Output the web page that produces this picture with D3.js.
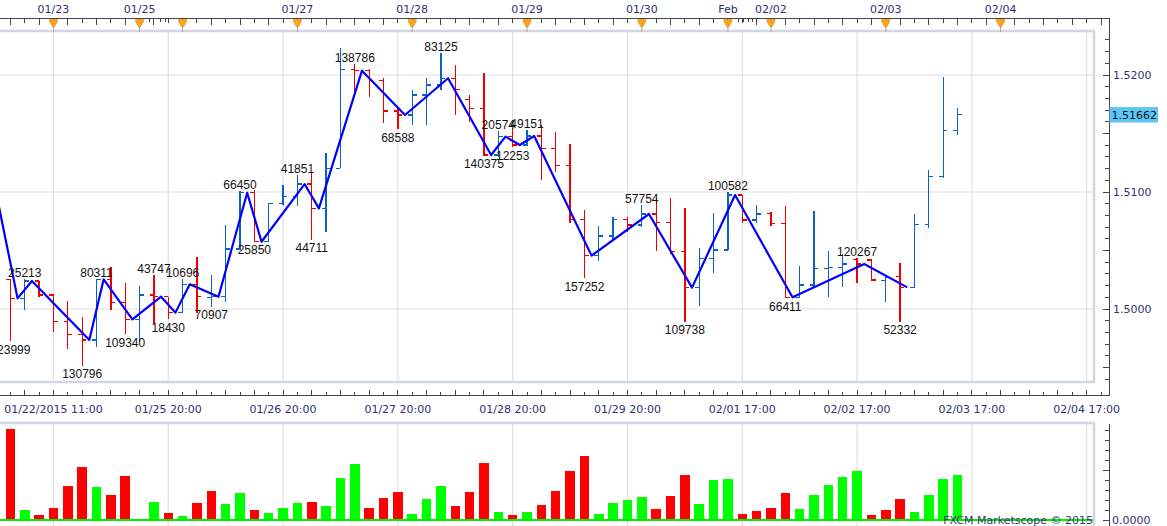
<!DOCTYPE html>
<html><head><meta charset="utf-8">
<script src="https://cdn.jsdelivr.net/npm/d3@7"></script>
<style>body{margin:0;background:#fff;overflow:hidden}svg{display:block}</style>
</head><body>
<svg id="c" width="1167" height="526"></svg>
<script>
// ---------- DATA ----------
const opens  = [1.50254,1.50091,1.50239,1.50120,1.49892,1.49783,1.49735,1.50254,1.50057,1.49912,
                1.50120,1.50105,1.49969,1.50211,1.50100,1.50105,1.50513,1.50994,1.50575,1.50903,
                1.50960,1.51068,1.50860,1.51202,1.52048,1.52037,1.51952,1.51692,1.51658,1.51829,
                1.51915,1.51972,1.51792,1.51715,1.51316,1.51473,1.51402,1.51479,1.51373,1.51228,
                1.50766,1.50456,1.50624,1.50766,1.50718,1.50812,1.50738,1.50490,1.50183,1.50433,
                1.50504,1.50974,1.50761,1.50818,1.50732,1.50100,1.50205,1.50348,1.50357,1.50424,
                1.50419,1.50242,1.50276,1.50185,1.50724,1.51134,1.51527];
const highs  = [1.50254,1.50254,1.50242,1.50128,1.50071,1.49934,1.50254,1.50356,1.50225,1.50197,
                1.50291,1.50105,1.50254,1.50442,1.50291,1.50718,1.51010,1.51017,1.50903,1.51060,
                1.51145,1.51174,1.51336,1.52228,1.52094,1.52048,1.51972,1.51724,1.51872,1.51972,
                1.52185,1.52085,1.51829,1.52020,1.51521,1.51544,1.51530,1.51573,1.51516,1.51410,
                1.50846,1.50709,1.50783,1.50789,1.50889,1.50946,1.50946,1.50860,1.50519,1.50823,
                1.51003,1.50974,1.50889,1.50832,1.50880,1.50368,1.50840,1.50499,1.50470,1.50433,
                1.50424,1.50282,1.50390,1.50812,1.51188,1.51986,1.51715];
const lows   = [1.49726,1.49991,1.50100,1.49806,1.49655,1.49516,1.49678,1.49991,1.49786,1.49721,
                1.49872,1.49912,1.49963,1.49963,1.50020,1.50057,1.50504,1.50573,1.50570,1.50889,
                1.50883,1.50590,1.50661,1.51202,1.51829,1.51809,1.51587,1.51538,1.51573,1.51573,
                1.51872,1.51658,1.51601,1.51308,1.51302,1.51381,1.51395,1.51103,1.51174,1.50732,
                1.50262,1.50413,1.50590,1.50661,1.50704,1.50499,1.50470,1.49892,1.50028,1.50305,
                1.50504,1.50732,1.50732,1.50709,1.50091,1.50091,1.50177,1.50100,1.50191,1.50225,
                1.50242,1.50063,1.49892,1.50177,1.50695,1.51117,1.51487];
const closes = [1.50091,1.50239,1.50120,1.49892,1.49783,1.49735,1.50254,1.50057,1.49912,1.50120,
                1.50105,1.49969,1.50211,1.50105,1.50105,1.50513,1.50994,1.50575,1.50903,1.50960,
                1.51068,1.50860,1.51202,1.52048,1.52037,1.51952,1.51692,1.51658,1.51829,1.51915,
                1.51972,1.51878,1.51715,1.51316,1.51473,1.51402,1.51479,1.51373,1.51228,1.50766,
                1.50456,1.50624,1.50766,1.50718,1.50812,1.50738,1.50490,1.50183,1.50433,1.50504,
                1.50974,1.50761,1.50812,1.50732,1.50100,1.50205,1.50348,1.50357,1.50385,1.50385,
                1.50248,1.50270,1.50185,1.50724,1.51134,1.51527,1.51662];
const volumes = [91,10,5,12,34,53,33,25,44,1,18,7,4,17,29,16,27,10,7,12,17,18,14,42,56,12,22,28,6,21,
                 34,14,28,57,8,5,8,15,29,49,64,6,17,20,23,11,24,45,16,40,41,6,9,12,27,11,25,35,43,49,
                 5,10,21,8,25,41,45];
const volumeUp = [0,1,0,0,0,0,1,0,0,1,1,0,1,0,0,1,1,0,1,1,1,0,1,1,1,0,0,0,1,1,
                  1,0,0,0,1,0,1,0,0,0,0,1,1,1,1,0,0,0,1,1,1,0,0,0,0,1,1,1,1,1,
                  0,0,0,1,1,1,1];
const pivotIndex  = [0,1,5,6,8,10,11,12,14,16,17,20,21,24,27,30,33,34,35,36,40,44,47,50,54,59,62];
const pivotType   = ["L","H","L","H","L","H","L","H","L","H","L","H","L","H","L","H","L","H","L","H","L","H","L","H","L","H","L"];
const pivotLabels = ["123999","25213","130796","80311","109340","43747","18430","10696","70907","66450",
                     "25850","41851","44711","138786","68588","83125","140375","20574","12253","49151",
                     "157252","57754","109738","100582","66411","120267","52332"];
const zigzagLeadIndex = -2, zigzagLeadPrice = 1.51298;
const topMarkerIndex  = [3,9,12,20,28,36,44,50,53,61,69];
const topMarkerLabels = ["01/23","01/25","","01/27","01/28","01/29","01/30","Feb","02/02","02/03","02/04"];
const extraTopTicks   = [9.66,10.43,10.82,50.73,51.09,51.45,51.74];
const gridIndex    = [3,11,19,27,35,43,51,59,67,75];
const bottomLabels = ["01/22/2015 11:00","01/25 20:00","01/26 20:00","01/27 20:00","01/28 20:00",
                      "01/29 20:00","02/01 17:00","02/02 17:00","02/03 17:00","02/04 17:00"];
const priceGrid   = [1.50,1.51,1.52];
const priceLabels = ["1.5000","1.5100","1.5200"];
const lastPrice = 1.51662, lastPriceText = "1.51662";
const volumeTicks = [0,10,20,30,40,50,60,70,80,90];
const volumeZeroLabel = "0.0000";
const credit = "FXCM Marketscope © 2015";

// ---------- LAYOUT ----------
const W = 1167, H = 526;
const paneRight = 1094, axisX = 1109.5;
const topAxisY = 18.5, priceTop = 31, priceBottom = 382, bottomAxisY = 395.5;
const volTop = 423, volBottom = 526;
const axisFont = "'DejaVu Sans', Verdana, sans-serif";
const axisColor = "#30306e";

const x  = d3.scaleLinear().domain([0, 75]).range([10.4, 10.4 + 14.35 * 75]);
const y  = d3.scaleLinear().domain([1.50, 1.52]).range([309, 75]);
const yv = d3.scaleLinear().domain([0, 99]).range([520, 421]);
const half = (x(1) - x(0)) / 2;
const tickLen = 4.3;

const svg = d3.select("#c");
const defs = svg.append("defs");
defs.append("clipPath").attr("id","pclip").append("rect")
  .attr("x",0).attr("y",priceTop+1).attr("width",paneRight-1).attr("height",priceBottom-priceTop-2);
defs.append("clipPath").attr("id","vclip").append("rect")
  .attr("x",0).attr("y",volTop+1).attr("width",paneRight-1).attr("height",volBottom-volTop);

svg.append("rect").attr("width",W).attr("height",H).attr("fill","#fff");

// ---------- PRICE PANE ----------
const pp = svg.append("g").attr("clip-path","url(#pclip)");
pp.selectAll("line.vg").data(gridIndex).join("line")
  .attr("x1",d=>x(d)).attr("x2",d=>x(d)).attr("y1",priceTop).attr("y2",priceBottom)
  .attr("stroke","#e0e0e0").attr("stroke-width",1.2);
pp.selectAll("line.hg").data(priceGrid).join("line")
  .attr("x1",0).attr("x2",paneRight).attr("y1",d=>y(d)).attr("y2",d=>y(d))
  .attr("stroke","#e0e0e0").attr("stroke-width",1.2);

const bars = d3.range(opens.length).map(i => ({i, o:opens[i], h:highs[i], l:lows[i], c:closes[i]}));
const bg = pp.append("g").attr("shape-rendering","crispEdges");
const barColor = d => d.c >= d.o ? "#0a62c9" : "#ee0000";
const bs = bg.selectAll("g").data(bars).join("g").attr("stroke", barColor).attr("stroke-width",1.3);
bs.append("line").attr("x1",d=>x(d.i)).attr("x2",d=>x(d.i)).attr("y1",d=>y(d.h)).attr("y2",d=>y(d.l));
bs.append("line").attr("x1",d=>x(d.i)-tickLen).attr("x2",d=>x(d.i)).attr("y1",d=>y(d.o)).attr("y2",d=>y(d.o));
bs.append("line").attr("x1",d=>x(d.i)).attr("x2",d=>x(d.i)+tickLen).attr("y1",d=>y(d.c)).attr("y2",d=>y(d.c));

const zz = [{i:zigzagLeadIndex, p:zigzagLeadPrice}].concat(pivotIndex.map(i => ({i, p:closes[i]})));
pp.append("path").datum(zz)
  .attr("d", d3.line().x(d=>x(d.i)+half).y(d=>y(d.p)))
  .attr("fill","none").attr("stroke","#0000ff").attr("stroke-width",2.2).attr("stroke-linejoin","round");

svg.append("g").selectAll("text").data(pivotIndex).join("text")
  .attr("x", d=>x(d))
  .attr("y", (d,k)=> pivotType[k]==="H" ? y(highs[d]) - 2 : y(lows[d]) + 12.5)
  .attr("text-anchor","middle")
  .attr("font-family","'Liberation Sans', Arial, sans-serif").attr("font-size",12).attr("fill","#111")
  .text((d,k)=>pivotLabels[k]);

// pane border
svg.append("rect").attr("x",-2).attr("y",priceTop).attr("width",paneRight+2).attr("height",priceBottom-priceTop)
  .attr("fill","none").attr("stroke","#cfd7e2").attr("stroke-width",2.5);

// ---------- TOP RULER ----------
const ta = svg.append("g").attr("shape-rendering","crispEdges");
ta.append("line").attr("x1",0).attr("x2",axisX).attr("y1",topAxisY).attr("y2",topAxisY).attr("stroke","#444").attr("stroke-width",1.2);
const topTickIdx = d3.range(0, 77).filter(i => x(i) < axisX - 2);
ta.selectAll("line.tt").data(topTickIdx).join("line")
  .attr("x1",d=>x(d)).attr("x2",d=>x(d)).attr("y1",topAxisY).attr("y2",d=> d%2===0 ? topAxisY+6 : topAxisY+4)
  .attr("stroke","#444");
ta.selectAll("line.et").data(extraTopTicks).join("line")
  .attr("x1",d=>x(d)).attr("x2",d=>x(d)).attr("y1",topAxisY).attr("y2",topAxisY+3.5).attr("stroke","#444");
const mk = svg.append("g").selectAll("g").data(topMarkerIndex).join("g")
  .attr("transform", d=>`translate(${x(d)},0)`);
mk.append("line").attr("x1",0).attr("x2",0).attr("y1",26).attr("y2",priceTop+1).attr("stroke","#a8a8a8");
mk.append("path").attr("d","M-4,19.5L4,19.5L4,21.5L0.8,27L-0.8,27L-4,21.5Z")
  .attr("fill","#f8a41c").attr("stroke","#e58e0a").attr("stroke-width",0.6);
svg.append("g").selectAll("text").data(topMarkerIndex).join("text")
  .attr("x",d=>x(d)).attr("y",13).attr("text-anchor","middle")
  .attr("font-family",axisFont).attr("font-size",11).attr("fill",axisColor)
  .text((d,k)=>topMarkerLabels[k]);

// ---------- BOTTOM TIME AXIS ----------
const ba = svg.append("g").attr("shape-rendering","crispEdges");
ba.append("line").attr("x1",0).attr("x2",axisX).attr("y1",bottomAxisY).attr("y2",bottomAxisY).attr("stroke","#444").attr("stroke-width",1.2);
ba.selectAll("line.bt").data(d3.range(0,77).filter(i=>x(i)<axisX-2)).join("line")
  .attr("x1",d=>x(d)).attr("x2",d=>x(d)).attr("y1",bottomAxisY).attr("y2",d=> d%2===1 ? bottomAxisY-6 : bottomAxisY-3.5)
  .attr("stroke","#444");
svg.append("g").selectAll("text").data(gridIndex).join("text")
  .attr("x",d=>x(d)).attr("y",413).attr("text-anchor","middle")
  .attr("font-family",axisFont).attr("font-size",11).attr("fill",axisColor)
  .text((d,k)=>bottomLabels[k]);

// ---------- RIGHT PRICE AXIS ----------
const ra = svg.append("g").attr("shape-rendering","crispEdges");
ra.append("line").attr("x1",axisX).attr("x2",axisX).attr("y1",topAxisY).attr("y2",bottomAxisY).attr("stroke","#444").attr("stroke-width",1.2);
const minorVals = d3.range(1494, 1524).map(v => v/1000);
ra.selectAll("line.rt").data(minorVals).join("line")
  .attr("x1",(d,k)=> (Math.round(d*1000)%5===0) ? axisX-7 : axisX-tickLen).attr("x2",axisX)
  .attr("y1",d=>y(d)).attr("y2",d=>y(d)).attr("stroke","#444");
svg.append("g").selectAll("text").data(priceGrid).join("text")
  .attr("x",axisX+3.5).attr("y",d=>y(d)).attr("dy","0.36em")
  .attr("font-family",axisFont).attr("font-size",11).attr("fill",axisColor)
  .text((d,k)=>priceLabels[k]);
svg.append("rect").attr("x",axisX).attr("y",y(lastPrice)-7.5).attr("width",48.5).attr("height",15.5).attr("fill","#5cc7f7");
svg.append("text").attr("x",axisX+2).attr("y",y(lastPrice)).attr("dy","0.36em")
  .attr("font-family",axisFont).attr("font-size",11).attr("fill","#111").text(lastPriceText);

// ---------- VOLUME PANE ----------
const vp = svg.append("g").attr("clip-path","url(#vclip)");
vp.selectAll("line.vg").data(gridIndex).join("line")
  .attr("x1",d=>x(d)).attr("x2",d=>x(d)).attr("y1",volTop).attr("y2",volBottom)
  .attr("stroke","#e0e0e0").attr("stroke-width",1.2);
vp.append("g").attr("shape-rendering","crispEdges").selectAll("rect").data(volumes).join("rect")
  .attr("x",(d,i)=>x(i)-4.75).attr("width",9.5)
  .attr("y",d=>yv(d)).attr("height",d=>yv(0)-yv(d))
  .attr("fill",(d,i)=> volumeUp[i] ? "#00ff00" : "#ff0000");
vp.append("line").attr("x1",0).attr("x2",paneRight).attr("y1",yv(0)).attr("y2",yv(0))
  .attr("stroke","#00ee00").attr("stroke-width",2);
svg.append("rect").attr("x",-2).attr("y",volTop).attr("width",paneRight+2).attr("height",volBottom-volTop+3)
  .attr("fill","none").attr("stroke","#cfd7e2").attr("stroke-width",2.5);
svg.append("text").attr("x",paneRight-1).attr("y",524).attr("text-anchor","end")
  .attr("font-family",axisFont).attr("font-size",11).attr("fill","#3a3a72").text(credit);

const va = svg.append("g").attr("shape-rendering","crispEdges");
va.append("line").attr("x1",axisX).attr("x2",axisX).attr("y1",volTop+1).attr("y2",H).attr("stroke","#444").attr("stroke-width",1.2);
va.selectAll("line").filter(".t").data(volumeTicks).join("line")
  .attr("x1",d=> d%50===0 ? axisX-7 : axisX-tickLen).attr("x2",axisX)
  .attr("y1",d=>yv(d)).attr("y2",d=>yv(d)).attr("stroke","#444");
svg.append("text").attr("x",axisX+2.5).attr("y",yv(0)).attr("dy","0.36em")
  .attr("font-family",axisFont).attr("font-size",11).attr("fill",axisColor).text(volumeZeroLabel);
</script>
</body></html>
